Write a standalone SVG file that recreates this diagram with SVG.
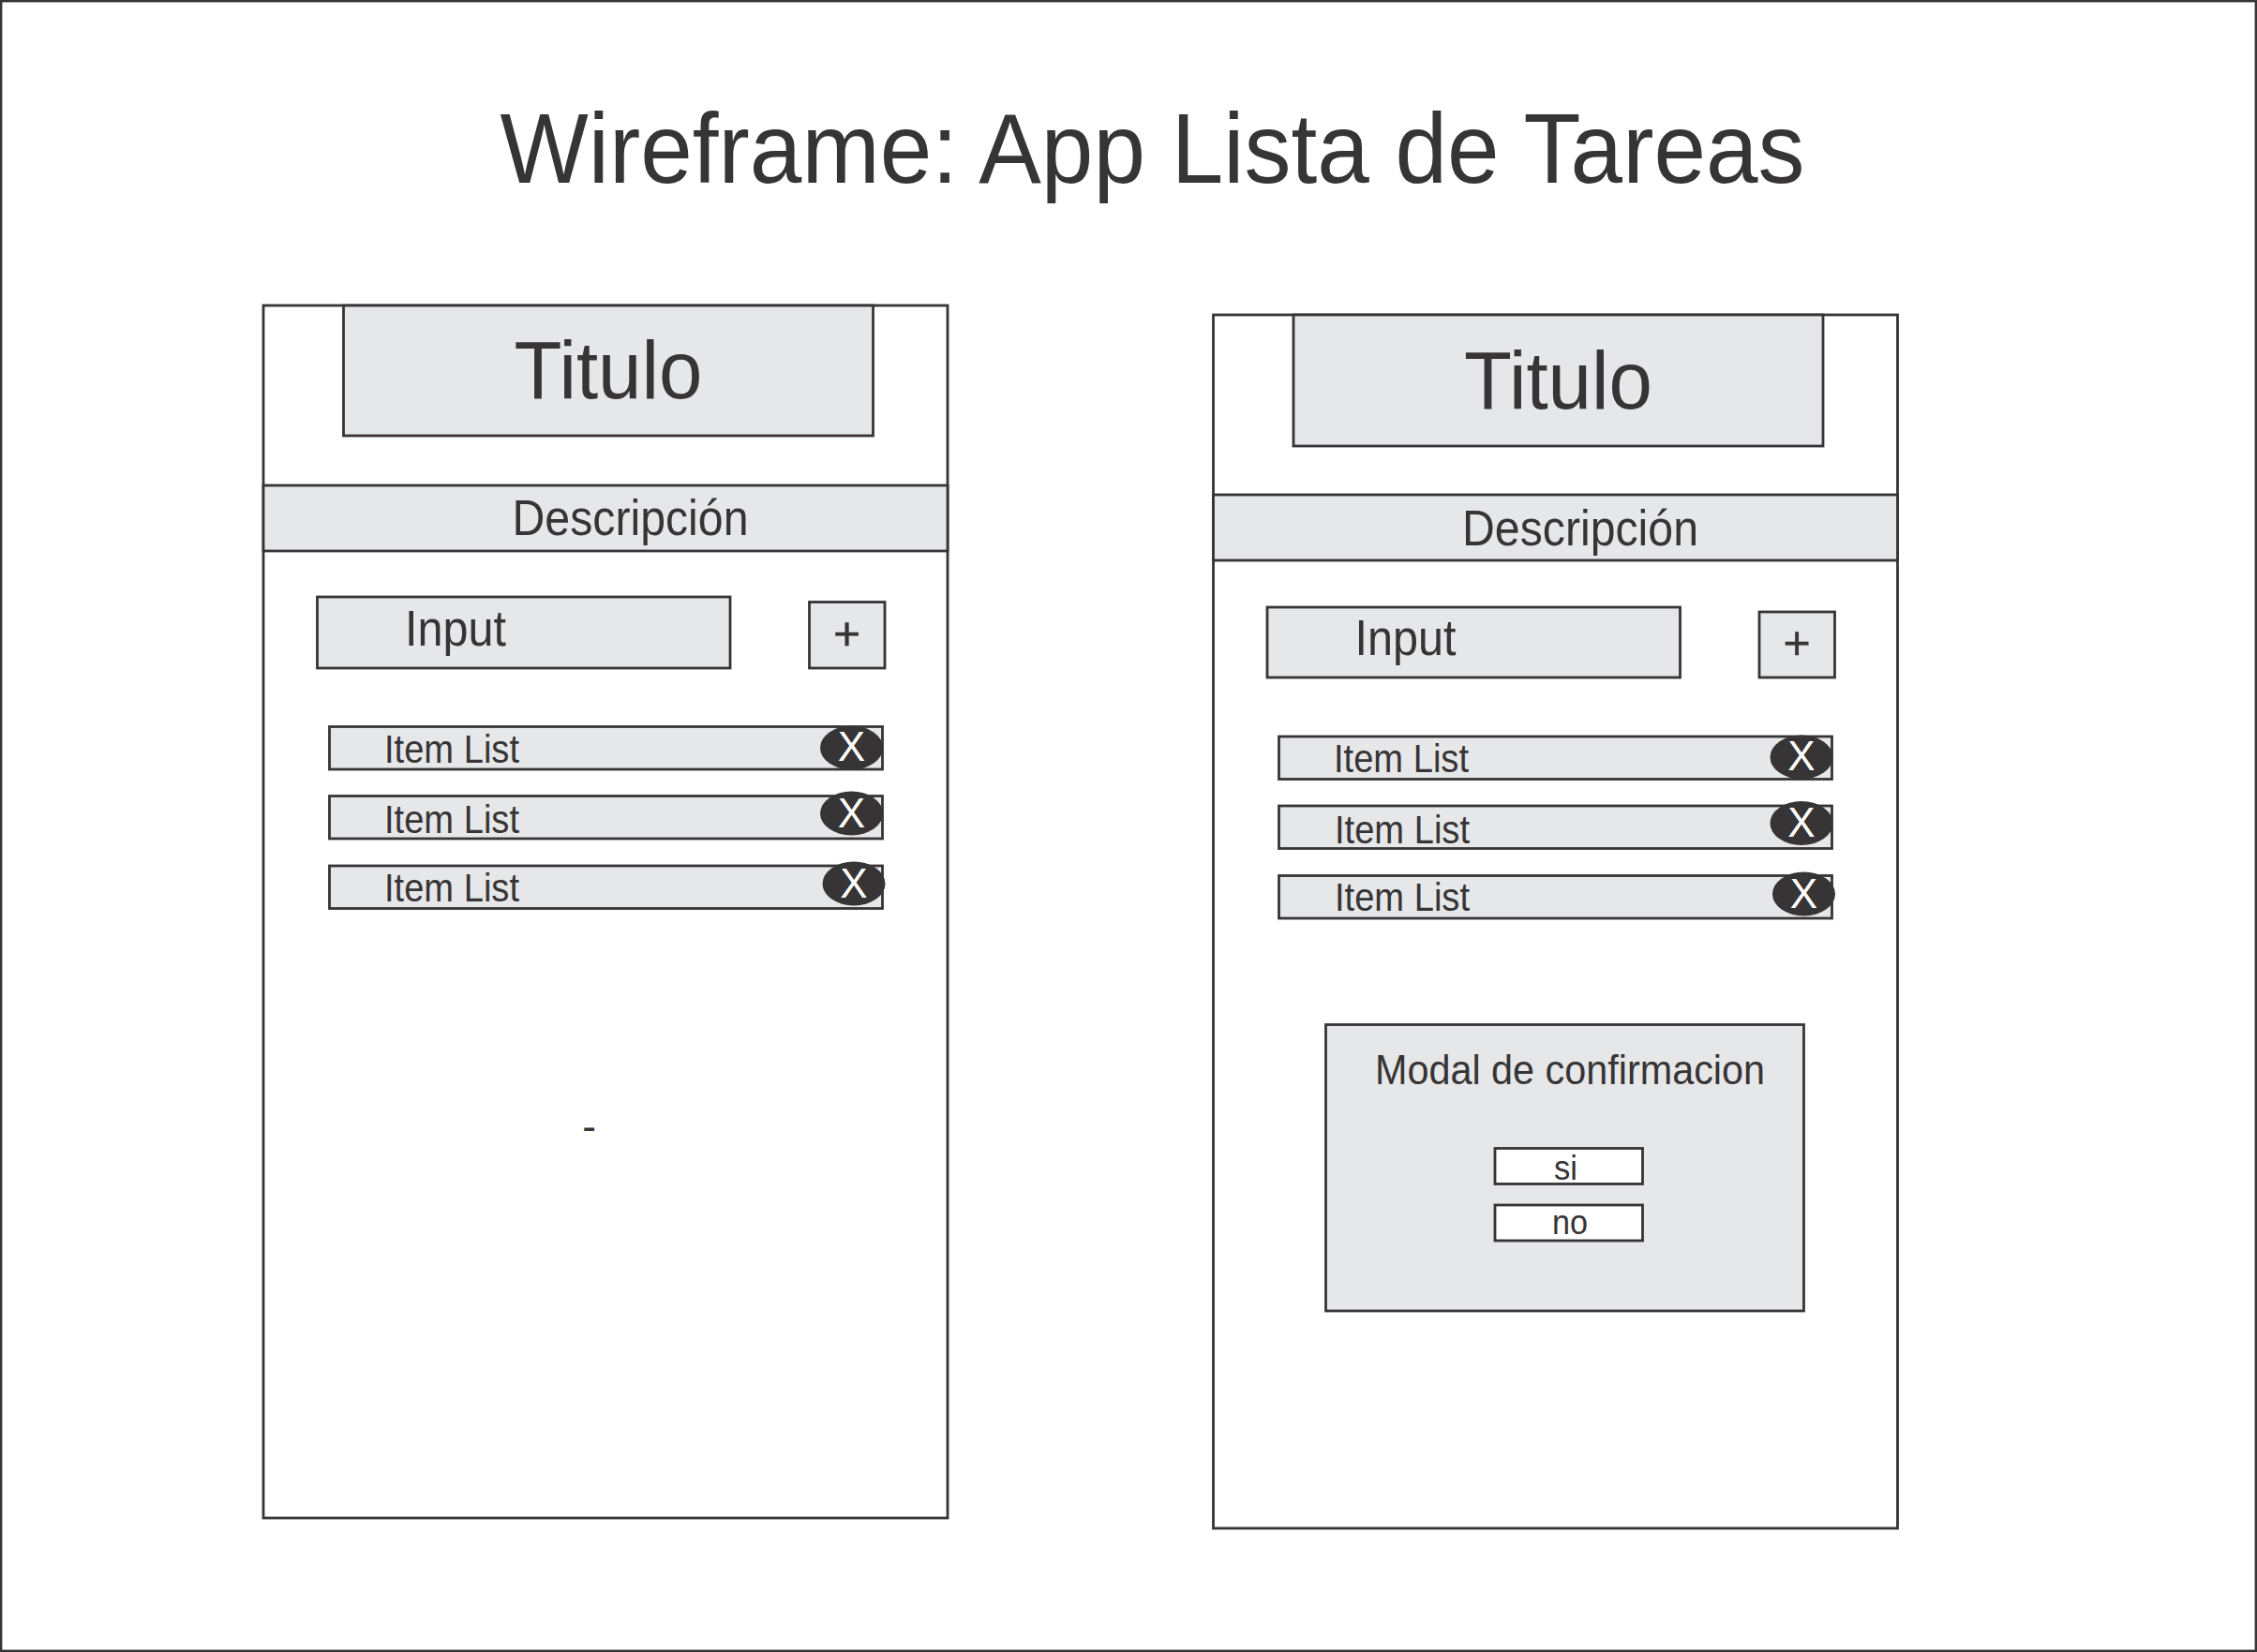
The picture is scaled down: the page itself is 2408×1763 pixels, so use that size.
<svg xmlns="http://www.w3.org/2000/svg" width="2408" height="1763" viewBox="0 0 2408 1763">
<style>
.b{fill:#fff;stroke:#373435;stroke-width:2.8}
.g{fill:#e6e7e8;stroke:#373435;stroke-width:2.8}
.d{fill:#373435;stroke:none}
text{font-family:"Liberation Sans",Arial,sans-serif;fill:#373435}
.x{fill:#fff;font-size:44px;text-anchor:middle}
.t{font-size:87px}.h{font-size:54px}.i{font-size:43px}
.p{font-size:50px;text-anchor:middle;stroke:#373435;stroke-width:.4}
</style>
<rect width="2408" height="1763" fill="#fff"/>
<g id="frame"><rect class="b" x="1" y="1" width="2406" height="1761" style="fill:none"/></g>
<g id="title"><text x="533.500" y="195" font-size="105" textLength="1392" lengthAdjust="spacingAndGlyphs">Wireframe: App Lista de Tareas</text></g>
<g id="connectors"/>
<g id="screen-left">
<rect class="b" x="281" y="326" width="730" height="1294"/>
<g id="left-titulo"><rect class="g" x="366.500" y="326" width="565" height="139"/><text class="t" x="548.500" y="425" textLength="201" lengthAdjust="spacingAndGlyphs">Titulo</text></g>
<g id="left-desc"><rect class="g" x="281" y="518" width="730" height="70"/><text class="h" x="546.500" y="571" textLength="252" lengthAdjust="spacingAndGlyphs">Descripción</text></g>
<g id="left-input"><rect class="g" x="338.500" y="637" width="440.500" height="76"/><text class="h" x="432" y="689" textLength="108" lengthAdjust="spacingAndGlyphs">Input</text></g>
<g id="left-add"><rect class="g" x="863.500" y="642.500" width="80.500" height="70.500"/><text class="p" x="903.500" y="693">+</text></g>
<g id="left-item1"><rect class="g" x="351.500" y="775.500" width="590" height="45.500"/><text class="i" x="410" y="813.500" textLength="144" lengthAdjust="spacingAndGlyphs">Item List</text><ellipse class="d" cx="908.500" cy="798" rx="33.500" ry="23.500"/><text class="x" x="908.500" y="812">X</text></g>
<g id="left-item2"><rect class="g" x="351.500" y="849.500" width="590" height="45.500"/><text class="i" x="410" y="888.500" textLength="144" lengthAdjust="spacingAndGlyphs">Item List</text><ellipse class="d" cx="908.500" cy="868" rx="33.500" ry="23.500"/><text class="x" x="908.500" y="883">X</text></g>
<g id="left-item3"><rect class="g" x="351.500" y="924" width="590" height="45.500"/><text class="i" x="410" y="962" textLength="144" lengthAdjust="spacingAndGlyphs">Item List</text><ellipse class="d" cx="911" cy="943" rx="33.500" ry="23.500"/><text class="x" x="911" y="958">X</text></g>
<g id="left-dash"><text x="628.500" y="1217" font-size="44" text-anchor="middle">-</text></g>
</g>
<g id="screen-right">
<rect class="b" x="1294.500" y="336" width="730" height="1295"/>
<g id="right-titulo"><rect class="g" x="1380" y="336" width="565" height="140"/><text class="t" x="1562" y="436" textLength="201" lengthAdjust="spacingAndGlyphs">Titulo</text></g>
<g id="right-desc"><rect class="g" x="1294.500" y="528" width="730" height="70"/><text class="h" x="1560" y="582" textLength="252" lengthAdjust="spacingAndGlyphs">Descripción</text></g>
<g id="right-input"><rect class="g" x="1352" y="648" width="440.500" height="75"/><text class="h" x="1445.500" y="699" textLength="108" lengthAdjust="spacingAndGlyphs">Input</text></g>
<g id="right-add"><rect class="g" x="1877" y="653" width="80.500" height="70"/><text class="p" x="1917" y="703">+</text></g>
<g id="right-item1"><rect class="g" x="1364.500" y="786" width="590" height="45.500"/><text class="i" x="1423" y="824" textLength="144" lengthAdjust="spacingAndGlyphs">Item List</text><ellipse class="d" cx="1922" cy="808" rx="33.500" ry="23.500"/><text class="x" x="1922" y="822">X</text></g>
<g id="right-item2"><rect class="g" x="1364.500" y="860" width="590" height="45.500"/><text class="i" x="1424" y="900" textLength="144" lengthAdjust="spacingAndGlyphs">Item List</text><ellipse class="d" cx="1922" cy="878.500" rx="33.500" ry="23.500"/><text class="x" x="1922" y="893">X</text></g>
<g id="right-item3"><rect class="g" x="1364.500" y="934.500" width="590" height="45.500"/><text class="i" x="1424" y="972" textLength="144" lengthAdjust="spacingAndGlyphs">Item List</text><ellipse class="d" cx="1924.500" cy="954" rx="33.500" ry="23.500"/><text class="x" x="1924.500" y="969">X</text></g>
<g id="modal"><rect class="g" x="1414.500" y="1093.500" width="510" height="305.500"/><text x="1467" y="1157" font-size="45" textLength="416" lengthAdjust="spacingAndGlyphs">Modal de confirmacion</text>
<g id="btn-si"><rect class="b" x="1595" y="1225.500" width="157.500" height="38"/><text x="1658" y="1259" font-size="37" textLength="25" lengthAdjust="spacingAndGlyphs">si</text></g>
<g id="btn-no"><rect class="b" x="1595" y="1286" width="157.500" height="38"/><text x="1656" y="1317" font-size="37" textLength="38" lengthAdjust="spacingAndGlyphs">no</text></g>
</g>
</g>
</svg>
